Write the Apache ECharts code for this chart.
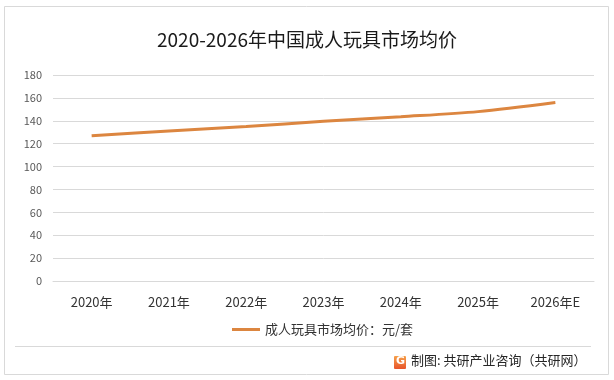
<!DOCTYPE html>
<html>
<head>
<meta charset="utf-8">
<script src="https://cdn.jsdelivr.net/npm/echarts@6/dist/echarts.min.js"></script>
<style>
html,body{margin:0;padding:0;background:#fff;}
#c{width:614px;height:380px;}
</style>
</head>
<body>
<div id="c"></div>
<script>
const titleText = '2020-2026年中国成人玩具市场均价';
const categories = ['2020年','2021年','2022年','2023年','2024年','2025年','2026年E'];
const seriesName = '成人玩具市场均价：元/套';
const values = [127, 131, 135, 139.5, 143.5, 148, 156];
const yTicks = [0, 20, 40, 60, 80, 100, 120, 140, 160, 180];
const footerText = '制图: 共研产业咨询（共研网）';

const font = '"Noto Sans CJK SC", "Noto Sans", sans-serif';
const chart = echarts.init(document.getElementById('c'), null, {renderer: 'canvas'});
chart.setOption({
  animation: false,
  backgroundColor: '#fff',
  textStyle: {fontFamily: font},
  title: {
    text: titleText,
    left: 'center',
    top: 25,
    textStyle: {fontFamily: font, fontSize: 19, fontWeight: 'normal', color: '#1a1a1a'}
  },
  grid: {left: 53, right: 20, top: 75, bottom: 99},
  xAxis: {
    type: 'category',
    data: categories,
    boundaryGap: true,
    axisLine: {show: true, lineStyle: {color: '#d9d9d9', width: 1}},
    axisTick: {show: false},
    axisLabel: {color: '#333333', fontSize: 13, margin: 15, fontFamily: font}
  },
  yAxis: {
    type: 'value',
    min: yTicks[0],
    max: yTicks[yTicks.length - 1],
    interval: yTicks[1] - yTicks[0],
    axisLine: {show: false},
    axisTick: {show: false},
    axisLabel: {color: '#595959', fontSize: 11, margin: 11, fontFamily: font},
    splitLine: {lineStyle: {color: '#d9d9d9', width: 1}}
  },
  legend: {
    data: [seriesName],
    top: 318,
    left: 227,
    itemWidth: 28,
    itemHeight: 10,
    itemGap: 6,
    icon: 'path://M0,4L28,4L28,7L0,7Z',
    textStyle: {color: '#333333', fontSize: 13, fontFamily: font}
  },
  series: [{
    name: seriesName,
    type: 'line',
    data: values,
    smooth: 0.3,
    symbol: 'none',
    lineStyle: {color: '#DC8640', width: 3},
    itemStyle: {color: '#DC8640'}
  }],
  graphic: [
    {type: 'rect', shape: {x: 4.5, y: 6.5, width: 604, height: 368}, style: {fill: 'none', stroke: '#d9d9d9', lineWidth: 1}, silent: true},
    {type: 'line', shape: {x1: 15, y1: 346.5, x2: 591, y2: 346.5}, style: {stroke: '#d9d9d9', lineWidth: 1}, silent: true},
    {type: 'rect', shape: {x: 394, y: 356, width: 12, height: 13, r: 1},
      style: {fill: new echarts.graphic.LinearGradient(0, 0, 0, 1, [{offset: 0, color: '#F6A04A'}, {offset: 1, color: '#E8542A'}])}, silent: true},
    {type: 'text', left: 396, top: 356, style: {text: 'G', fill: '#fff', font: 'bold 11px "DejaVu Sans", sans-serif'}, silent: true},
    {type: 'text', left: 411, top: 354, style: {text: footerText, fill: '#262626', font: '13px "Noto Sans CJK SC", sans-serif'}, silent: true}
  ]
});
</script>
</body>
</html>
